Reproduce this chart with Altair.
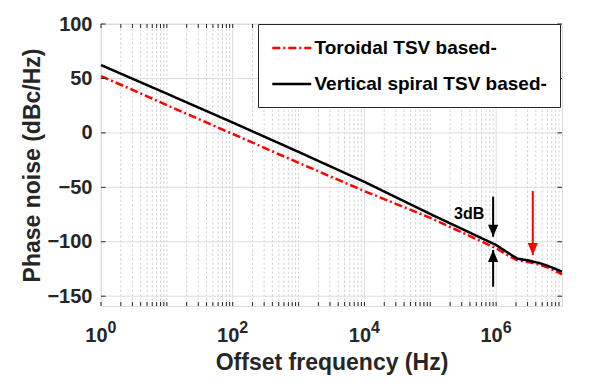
import altair as alt
import pandas as pd

# ---------------- data ----------------
freq = [1, 10, 100, 1e3, 1e4, 1e5, 1e6, 1.5e6, 2.1e6, 3e6, 4.5e6, 6e6, 8e6, 1e7]
toroidal = [52.2, 25.5, -1.0, -27.5, -53.5, -78.0, -106.0, -112.5, -117.0, -118.5, -121.0, -123.5, -127.0, -130.0]
vertical = [62.3, 36.0, 9.5, -17.5, -45.0, -74.5, -103.0, -110.0, -115.5, -117.0, -119.5, -122.0, -125.0, -127.5]
series = ["Toroidal TSV based-", "Vertical spiral TSV based-"]

y_ticks = [-150, -100, -50, 0, 50, 100]
x_major = [1, 100, 1e4, 1e6]
x_base = ["10", "10", "10", "10"]
x_exponents = ["0", "2", "4", "6"]
x_minor = [m * 10 ** k for k in range(7) for m in range(2, 10)] + [10, 1e3, 1e5]

arrow_freq = [9e5, 9e5, 3.6e6]
arrow_start = [-58.6, -141.3, -53.4]
arrow_tip = [-95.4, -107.6, -112.2]
arrow_dir = ["down", "up", "down"]
arrow_color = ["black", "black", "red"]

note_text = ["3dB"]
note_freq = [3.9e5]
note_value = [-74.8]

# ---------------- frames ----------------
lines_df = pd.DataFrame({
    "freq": freq * 2,
    "value": toroidal + vertical,
    "series": [series[0]] * len(freq) + [series[1]] * len(freq),
})
major_df = pd.DataFrame({"gx": x_major, "base": x_base, "exp": x_exponents})
minor_df = pd.DataFrame({"gx": x_minor})
all_x_df = pd.DataFrame({"gx": x_major + x_minor})
yt_df = pd.DataFrame({"gy": y_ticks})
arrow_df = pd.DataFrame({"af": arrow_freq, "a0": arrow_start, "a1": arrow_tip,
                         "dir": arrow_dir, "col": arrow_color})
note_df = pd.DataFrame({"t": note_text, "nf": note_freq, "nv": note_value})

W, H = 461, 282
FONT = "Liberation Sans"
AX = "#262626"
GRID = "#dedede"

xs = alt.Scale(type="log", domain=[1, 1e7], nice=False)
ys = alt.Scale(domain=[-159, 100], nice=False, zero=False)

XAX = alt.Axis(title="Offset frequency (Hz)", labels=False, ticks=False, grid=False, domain=False,
               titleFont=FONT, titleFontSize=23, titleFontWeight="bold", titleColor=AX, titlePadding=45)
YAX = alt.Axis(title="Phase noise (dBc/Hz)", values=y_ticks, ticks=False, grid=False, domain=False,
               labelFont=FONT, labelFontSize=20, labelFontWeight="bold", labelColor=AX, labelPadding=9,
               titleFont=FONT, titleFontSize=23, titleFontWeight="bold", titleColor=AX, titlePadding=2)


def X(f):
    return alt.X(f, scale=xs, axis=XAX)


def Y(f):
    return alt.Y(f, scale=ys, axis=YAX)


# grid
grid_minor = alt.Chart(minor_df).mark_rule(color="#d4d4d4", strokeWidth=1, strokeDash=[2.5, 2]).encode(
    x=X("gx:Q"))
grid_major = alt.Chart(major_df).mark_rule(color=GRID, strokeWidth=1).encode(x=X("gx:Q"))
grid_y = alt.Chart(yt_df).mark_rule(color=GRID, strokeWidth=1).encode(y=Y("gy:Q"))

leg = alt.Legend(orient="none", legendX=157, legendY=0, title=None,
                 symbolType="M-1,0L3,0", symbolSize=380, symbolStrokeWidth=2.5,
                 labelFont=FONT, labelFontSize=19, labelFontWeight="bold",
                 labelColor="black", labelOffset=21.5, padding=13, rowPadding=15,
                 strokeColor=AX, fillColor="white", labelLimit=400, cornerRadius=0)

lines = alt.Chart(lines_df).mark_line(strokeWidth=2.5).encode(
    x=X("freq:Q"),
    y=Y("value:Q"),
    color=alt.Color("series:N", scale=alt.Scale(domain=series, range=["#ff0000", "#000000"]), legend=leg),
    strokeDash=alt.StrokeDash("series:N", scale=alt.Scale(domain=series, range=[[8, 3, 2, 3], [1, 0]]), legend=leg),
    order=alt.Order("freq:Q"),
)

# arrows
shafts = alt.Chart(arrow_df).mark_rule(strokeWidth=2).encode(
    x=X("af:Q"), y=Y("a0:Q"), y2="a1:Q",
    color=alt.Color("col:N", scale=None),
)
head_down = alt.Chart(arrow_df).transform_filter(alt.datum.dir == "down").mark_point(
    shape="M-0.85,-2L0.85,-2L0,0Z", size=144, filled=True, opacity=1, strokeWidth=0).encode(
    x=X("af:Q"), y=Y("a1:Q"), color=alt.Color("col:N", scale=None),
)
head_up = alt.Chart(arrow_df).transform_filter(alt.datum.dir == "up").mark_point(
    shape="M-0.85,2L0.85,2L0,0Z", size=144, filled=True, opacity=1, strokeWidth=0).encode(
    x=X("af:Q"), y=Y("a1:Q"), color=alt.Color("col:N", scale=None),
)
note = alt.Chart(note_df).mark_text(font=FONT, fontSize=16, fontWeight="bold", color="black",
                                    align="center", baseline="middle").encode(
    x=X("nf:Q"), y=Y("nv:Q"), text="t:N",
)

# custom x tick labels 10^n
lab_base = alt.Chart(major_df).mark_text(font=FONT, fontSize=20, fontWeight="bold", color=AX,
                                         align="right", baseline="alphabetic", dx=6.6).encode(
    x=X("gx:Q"), y=alt.value(H + 35.7), text="base:N")
lab_exp = alt.Chart(major_df).mark_text(font=FONT, fontSize=16, fontWeight="bold", color=AX,
                                        align="left", baseline="alphabetic", dx=6.6).encode(
    x=X("gx:Q"), y=alt.value(H + 27.3), text="exp:N")

# inward ticks
tick_b = alt.Chart(all_x_df).mark_rule(color=AX, strokeWidth=1).encode(
    x=X("gx:Q"), y=alt.value(H), y2=alt.value(H - 4))
tick_t = alt.Chart(all_x_df).mark_rule(color=AX, strokeWidth=1).encode(
    x=X("gx:Q"), y=alt.value(0), y2=alt.value(4))
tick_l = alt.Chart(yt_df).mark_rule(color=AX, strokeWidth=1).encode(
    y=Y("gy:Q"), x=alt.value(0), x2=alt.value(4.6))
tick_r = alt.Chart(yt_df).mark_rule(color=AX, strokeWidth=1).encode(
    y=Y("gy:Q"), x=alt.value(W), x2=alt.value(W - 4.6))

chart = alt.layer(
    grid_minor, grid_major, grid_y, lines, shafts, head_down, head_up, note,
    lab_base, lab_exp, tick_b, tick_t, tick_l, tick_r,
).properties(
    width=W, height=H,
    autosize=alt.AutoSizeParams(type="none"),
    padding={"left": 93, "top": 16, "right": 27, "bottom": 74},
).configure_view(stroke=AX, strokeWidth=1).configure(background="white")

chart.save("out.html", embed_options={"renderer": "svg", "actions": False})
